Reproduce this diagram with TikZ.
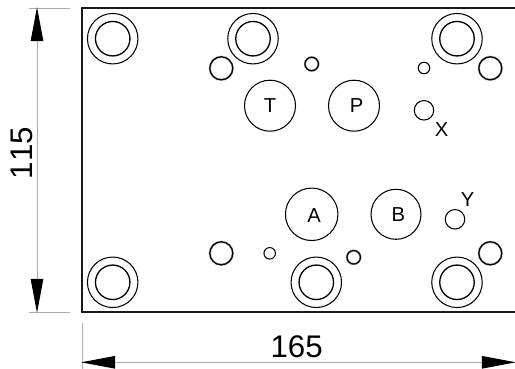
\documentclass[tikz,border=0pt]{standalone}
\usepackage{fontspec}
\setmainfont[Kerning=Off]{Liberation Sans}
\usetikzlibrary{arrows.meta}
\begin{document}
\begin{tikzpicture}[x=0.02cm,y=-0.02cm]
\tikzset{plate/.style = {line width=1pt, black!90}}
\tikzset{dimline/.style = {line width=0.55pt, black!32!white}}
\tikzset{dimarrow/.style = {dimline, {Triangle[black,length=0.68cm,width=0.25cm]}-{Triangle[black,length=0.68cm,width=0.25cm]}, shorten >=-0.5pt, shorten <=-0.5pt}}
\tikzset{hole/.style = {shape=circle, draw, inner sep=0pt, line width=0.6pt}}
\tikzset{halo/.style = {hole, line width=0.7pt, preaction={draw=black!30, line width=1.3pt}}}
\tikzset{bolt/.style = {hole, minimum size=1.01cm}}
\tikzset{boltin/.style = {hole, line width=0.75pt, minimum size=0.69cm}}
\tikzset{port/.style = {hole, minimum size=1.02cm}}
\tikzset{pilot/.style = {hole, minimum size=0.39cm}}
\tikzset{pinbig/.style = {halo, minimum size=0.46cm}}
\tikzset{pinmid/.style = {halo, minimum size=0.27cm}}
\tikzset{pinsmall/.style = {hole, minimum size=0.23cm}}
\tikzset{letter/.style = {inner sep=0pt, font=\fontsize{11.5}{13}\selectfont}}
\tikzset{size/.style = {inner sep=0pt, font=\fontsize{17.8}{20}\selectfont}}
\useasboundingbox (0,0) rectangle (515,369);
% plate
\draw[plate] (82,8) rectangle (530,312);
% bolts
\node[bolt](b1) at (112.7,38.7) {};
\node[boltin](b1i) at (112.7,38.7) {};
\node[bolt](b2) at (253,38.7) {};
\node[boltin](b2i) at (253,38.7) {};
\node[bolt](b3) at (457,38.7) {};
\node[boltin](b3i) at (457,38.7) {};
\node[bolt](b4) at (112.7,282.3) {};
\node[boltin](b4i) at (112.7,282.3) {};
\node[bolt](b5) at (316.3,282.3) {};
\node[boltin](b5i) at (316.3,282.3) {};
\node[bolt](b6) at (457,282.3) {};
\node[boltin](b6i) at (457,282.3) {};
% ports
\node[port](T) at (270,105.7) {};
\node[port](P) at (354,105.7) {};
\node[port,minimum size=1.05cm](A) at (311.7,214.3) {};
\node[port,minimum size=1cm](B) at (396,214.3) {};
\node[letter](Tl) at (270,105.7) {T};
\node[letter](Pl) at (356.7,105.7) {P};
\node[letter](Al) at (314,215.5) {A};
\node[letter](Bl) at (398.3,214.7) {B};
\node[pilot](X) at (424,110.3) {};
\node[pilot](Y) at (455,219.3) {};
\node[letter](Xl) at (441.7,130) {X};
\node[letter](Yl) at (467.7,200) {Y};
% pins
\node[pinbig](p1) at (221.3,68.3) {};
\node[pinmid](p2) at (311.7,64) {};
\node[pinsmall](p3) at (424,68) {};
\node[pinbig](p4) at (490.3,68.3) {};
\node[pinbig](p5) at (221.3,253.3) {};
\node[pinsmall](p6) at (269.7,253.3) {};
\node[pinmid](p7) at (353.7,257.3) {};
\node[pinbig](p8) at (490.3,253.3) {};
% dimensions
\coordinate (h1) at (29,8);
\coordinate (h2) at (70,8);
\coordinate (h3) at (29,312);
\coordinate (h4) at (70,312);
\coordinate (v1) at (37,8);
\coordinate (v2) at (37,312);
\coordinate (w1) at (82,323);
\coordinate (w2) at (82,369);
\coordinate (w3) at (82,362.3);
\coordinate (w4) at (515,362.3);
\draw[dimline] (h1) to (h2);
\draw[dimline] (h3) to (h4);
\draw[dimline] (w1) to (w2);
\draw[dimarrow] (v1) to (v2);
\draw[dimarrow] (w3) to (w4);
\node[size,rotate=90](hval) at (21.5,153) {115};
\node[size](wval) at (296.7,346.8) {165};
\end{tikzpicture}
\end{document}
